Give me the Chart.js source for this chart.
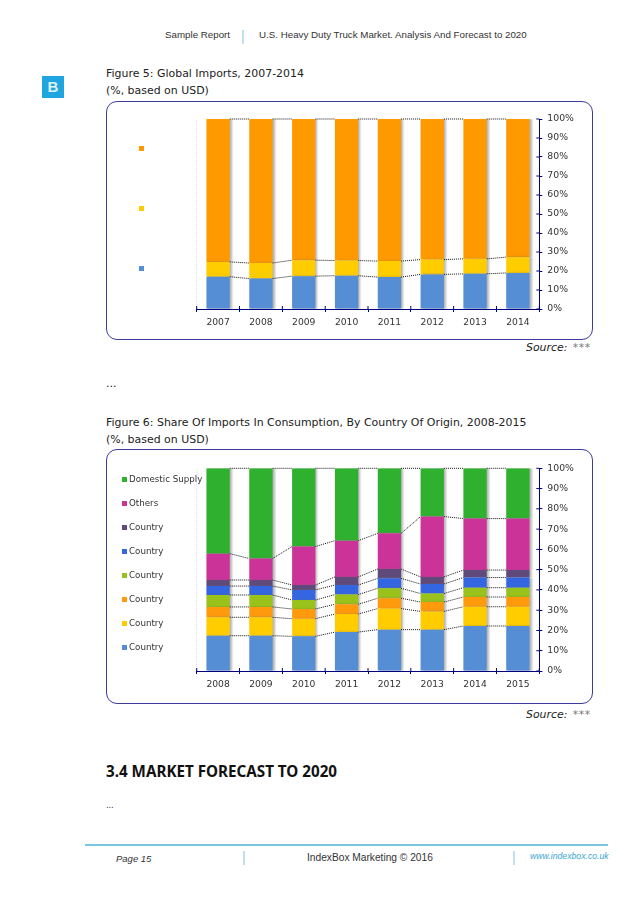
<!DOCTYPE html>
<html>
<head>
<meta charset="utf-8">
<title>Sample Report</title>
<script src="https://cdn.jsdelivr.net/npm/chart.js@4/dist/chart.umd.min.js"></script>
<style>
  html, body { margin: 0; padding: 0; background: #fff; }
  body { position: relative; width: 638px; height: 903px; overflow: hidden; font-family: "DejaVu Sans", sans-serif; color: #222; }
  .t { position: absolute; white-space: nowrap; line-height: 1; }
  .hdr { font-family: "Liberation Sans", sans-serif; font-size: 9.75px; color: #333; }
  .fig { font-size: 10.95px; color: #222; left: 106px; }
  .src { font-size: 10.9px; font-style: italic; left: 526px; }
  .src span { color: #777; letter-spacing: 0.6px; margin-left: 2px; }
  .sep { position: absolute; width: 2px; background: #bfe0ec; }
  .box { position: absolute; left: 106px; width: 485px; border: 1.3px solid #3c3c9c; border-radius: 11px; }
  canvas { position: absolute; left: 106px; }
  .leg { position: absolute; font-size: 8.7px; color: #333; white-space: nowrap; line-height: 1; }
  .leg i { display: inline-block; width: 5px; height: 5px; margin-right: 2px; vertical-align: 0px; }
</style>
</head>
<body>

<div class="t hdr" style="left:165px;top:30px">Sample Report</div>
<div class="sep" style="left:242px;top:30px;height:14px"></div>
<div class="t hdr" style="left:259px;top:30px">U.S. Heavy Duty Truck Market. Analysis And Forecast to 2020</div>

<div style="position:absolute;left:42px;top:76px;width:22px;height:22px;background:#1fa6e0;color:#dff3fb;font:bold 15px 'Liberation Sans Narrow','Liberation Sans';text-align:center;line-height:22px">B</div>

<div class="t fig" style="top:69px">Figure 5: Global Imports, 2007-2014</div>
<div class="t fig" style="top:86px">(%, based on USD)</div>
<div class="box" style="top:101px;height:237px"></div>
<canvas id="chart1" width="487" height="238" style="top:101px"></canvas>
<div class="t src" style="top:343px">Source: <span>***</span></div>
<div class="t" style="left:106px;top:378px;font-size:11px">...</div>

<div class="t fig" style="top:418px">Figure 6: Share Of Imports In Consumption, By Country Of Origin, 2008-2015</div>
<div class="t fig" style="top:435px">(%, based on USD)</div>
<div class="box" style="top:449px;height:253px"></div>
<canvas id="chart2" width="487" height="254" style="top:449px"></canvas>
<div class="t src" style="top:710px">Source: <span>***</span></div>

<div class="t" style="left:106px;top:764px;font-family:'Noto Sans';font-size:15.2px;font-weight:bold;color:#111">3.4 MARKET FORECAST TO 2020</div>
<div class="t" style="left:106px;top:802px;font-size:8px">...</div>

<div style="position:absolute;left:85px;top:844px;width:523px;height:2px;background:#7cc6e2"></div>
<div class="t hdr" style="left:116px;top:854px;font-style:italic;font-size:9.5px">Page 15</div>
<div class="sep" style="left:243px;top:851px;height:14px"></div>
<div class="t hdr" style="left:307px;top:853px;font-size:10.2px">IndexBox Marketing © 2016</div>
<div class="sep" style="left:513px;top:851px;height:14px"></div>
<div class="t hdr" style="left:530px;top:852px;font-style:italic;font-size:8.7px;color:#3aa6d0">www.indexbox.co.uk</div>

<script>
const years1 = ['2007', '2008', '2009', '2010', '2011', '2012', '2013', '2014'];
const years2 = ['2008', '2009', '2010', '2011', '2012', '2013', '2014', '2015'];
const pctTicks = [0, 10, 20, 30, 40, 50, 60, 70, 80, 90, 100];

// figure 5, bottom to top
const imp1 = [17.0, 16.0, 17.3, 17.5, 16.8, 18.2, 18.5, 19.0];
const imp2 = [7.8, 8.2, 8.4, 8.0, 8.4, 7.8, 7.9, 8.3];
const imp3 = [75.2, 75.8, 74.3, 74.5, 74.8, 74.0, 73.6, 72.7];
const names1 = ['', '', ''];
const colors1 = ['#558ed5', '#ffcc00', '#ff9900'];

// figure 6, bottom to top
const c1 = [17.4, 17.4, 17.1, 19.2, 20.4, 20.4, 22.2, 22.2];
const c2 = [9.1, 9.1, 8.7, 8.9, 10.4, 9.0, 9.5, 9.5];
const c3 = [5.1, 5.1, 4.8, 4.8, 5.1, 4.6, 4.8, 4.8];
const c4 = [5.9, 5.9, 4.4, 4.8, 4.9, 4.2, 4.6, 4.6];
const c5 = [4.4, 4.4, 5.0, 4.7, 4.9, 4.7, 5.0, 5.0];
const c6 = [3.0, 3.0, 2.4, 4.0, 4.6, 3.5, 3.7, 3.7];
const others = [13.0, 10.6, 19.0, 17.9, 17.6, 29.8, 25.4, 25.4];
const domestic = [42.1, 44.5, 38.6, 35.7, 32.1, 23.8, 24.8, 24.8];
const names2 = ['Country', 'Country', 'Country', 'Country', 'Country', 'Country', 'Others', 'Domestic Supply'];
const colors2 = ['#558ed5', '#ffcc00', '#ff9a0d', '#99c31a', '#3366e0', '#604a7b', '#cc3399', '#2fb12f'];

const navy = '#00007f';

// grey shadow to the right of the bars, dotted lines between them, ticks across the axes
const barExtras = {
  id: 'barExtras',
  beforeDatasetsDraw(chart) {
    const ctx = chart.ctx;
    ctx.save();
    ctx.shadowColor = 'rgba(110,110,110,0.5)';
    ctx.shadowOffsetX = 2;
    ctx.shadowOffsetY = 0;
    ctx.shadowBlur = 2;
  },
  afterDatasetsDraw(chart) {
    const ctx = chart.ctx;
    ctx.restore();
    ctx.save();
    ctx.strokeStyle = '#111';
    ctx.lineWidth = 1;
    ctx.setLineDash([1, 1]);
    chart.data.datasets.forEach((ds, i) => {
      const bars = chart.getDatasetMeta(i).data;
      for (let j = 0; j < bars.length - 1; j++) {
        ctx.beginPath();
        ctx.moveTo(bars[j].x + bars[j].width / 2, bars[j].y);
        ctx.lineTo(bars[j + 1].x - bars[j + 1].width / 2, bars[j + 1].y);
        ctx.stroke();
      }
    });
    ctx.restore();
  },
  afterDraw(chart) {
    const ctx = chart.ctx;
    const area = chart.chartArea;
    ctx.save();
    ctx.strokeStyle = '#d5dfec';
    ctx.lineWidth = 1;
    ctx.setLineDash([1, 1]);
    ctx.beginPath();
    ctx.moveTo(area.left, area.bottom);
    ctx.lineTo(area.left, area.top);
    ctx.stroke();
    ctx.setLineDash([]);
    ctx.strokeStyle = navy;
    ctx.beginPath();
    const n = chart.data.labels.length;
    for (let i = 0; i <= n; i++) {
      const x = area.left + i * area.width / n;
      ctx.moveTo(x, area.bottom - 3);
      ctx.lineTo(x, area.bottom);
    }
    chart.scales.y.ticks.forEach((t, i) => {
      const y = chart.scales.y.getPixelForTick(i);
      ctx.moveTo(area.right - 3, y);
      ctx.lineTo(area.right, y);
    });
    ctx.stroke();
    ctx.restore();
  }
};

function renderChart(id, labels, series, names, colors, opt) {
  new Chart(document.getElementById(id), {
    type: 'bar',
    data: {
      labels: labels,
      datasets: series.map((vals, i) => ({
        label: names[i],
        data: vals,
        backgroundColor: colors[i],
        borderWidth: 0,
        barPercentage: 0.545,
        categoryPercentage: 1
      }))
    },
    options: {
      responsive: false,
      animation: false,
      layout: { padding: { left: 90.7, top: opt.top, right: 0, bottom: 0 } },
      plugins: { legend: { display: false }, tooltip: { enabled: false } },
      scales: {
        x: {
          stacked: true,
          grid: { offset: true, drawOnChartArea: false, tickLength: 3, tickColor: navy },
          border: { color: navy },
          ticks: { color: '#333', font: { family: 'DejaVu Sans', size: 9.2 }, padding: 5, maxRotation: 0, autoSkip: false },
          afterFit(scale) { scale.height = opt.xHeight; }
        },
        y: {
          stacked: true,
          position: 'right',
          min: 0,
          max: 100,
          grid: { drawOnChartArea: false, tickLength: 3, tickColor: navy },
          border: { color: navy },
          afterBuildTicks(scale) { scale.ticks = pctTicks.map(v => ({ value: v })); },
          ticks: {
            color: '#333',
            font: { family: 'DejaVu Sans', size: 9.3 },
            padding: 5,
            callback: v => v + '%'
          },
          afterFit(scale) { scale.width = 53.7; }
        }
      }
    },
    plugins: [barExtras]
  });

  // html legend, top series first
  names.forEach((name, i) => {
    const row = document.createElement('div');
    row.className = 'leg';
    row.style.left = opt.legendX + 'px';
    row.style.top = (opt.legendTop + (names.length - 1 - i) * opt.legendStep) + 'px';
    const mark = document.createElement('i');
    mark.style.background = colors[i];
    row.appendChild(mark);
    row.appendChild(document.createTextNode(name));
    document.body.appendChild(row);
  });
}

renderChart('chart1', years1, [imp1, imp2, imp3], names1, colors1,
  { top: 18, xHeight: 30, legendX: 139, legendTop: 144, legendStep: 60 });
renderChart('chart2', years2, [c1, c2, c3, c4, c5, c6, others, domestic], names2, colors2,
  { top: 19.3, xHeight: 32, legendX: 122, legendTop: 474.5, legendStep: 24 });
</script>
</body>
</html>
